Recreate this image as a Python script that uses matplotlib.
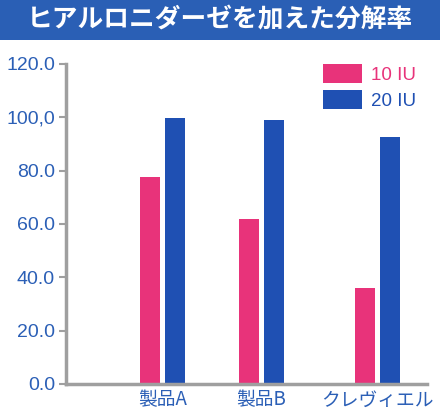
import matplotlib
matplotlib.use("Agg")
import matplotlib.pyplot as plt
from matplotlib.patches import Patch, Rectangle

plt.rcParams['font.family'] = ['Liberation Sans', 'Noto Sans CJK JP', 'DejaVu Sans']

# data
categories = ["製品A", "製品B", "クレヴィエル"]
series_names = ["10 IU", "20 IU"]
vals_10 = [77.7, 62.0, 36.1]
vals_20 = [99.8, 99.1, 92.8]
ytick_vals = [0, 20, 40, 60, 80, 100, 120]
ytick_labels = ["0.0", "20.0", "40.0", "60.0", "80.0", "100,0", "120.0"]
title = "ヒアルロニダーゼを加えた分解率"

pink = "#e8337a"
blue = "#1f50b3"
label_blue = "#2b5fb6"
grey = "#9f9f9f"

xpos = [0, 1, 2.17]
w = 0.202
off = 0.126

fig = plt.figure(figsize=(4.4, 4.2), dpi=100)

# title banner
fig.patches.append(Rectangle((0, 1 - 40 / 420), 1, 40 / 420, transform=fig.transFigure,
                             facecolor="#2a5fb5", edgecolor="none", zorder=0))
fig.text(0.5, 1 - 20 / 420, title, color="white", fontsize=18.5, fontweight="bold",
         ha="center", va="center", family=["Noto Sans CJK JP", "DejaVu Sans"])

ax = fig.add_axes([66 / 440, 1 - 384 / 420, (427 - 66) / 440, (384 - 64) / 420])
ax.bar([x - off for x in xpos], vals_10, width=w, color=pink, zorder=2)
ax.bar([x + off for x in xpos], vals_20, width=w, color=blue, zorder=2)

ax.set_xlim(-0.975, 2.672)
ax.set_ylim(0, 120)
ax.set_yticks(ytick_vals)
ax.set_yticklabels(ytick_labels, color=label_blue, fontsize=14)
ax.set_xticks(xpos)
ax.set_xticklabels(categories, color=label_blue, fontsize=13.5,
                   family=["Noto Sans CJK JP", "DejaVu Sans"])
ax.tick_params(axis="x", length=0, pad=4)
ax.tick_params(axis="y", length=5, width=1.5, color=grey, pad=3)

for s in ["top", "right"]:
    ax.spines[s].set_visible(False)
for s in ["left", "bottom"]:
    ax.spines[s].set_color(grey)
    ax.spines[s].set_linewidth(2.5)

handles = [Patch(facecolor=pink, edgecolor="none"), Patch(facecolor=blue, edgecolor="none")]
leg = ax.legend(handles, series_names, loc="upper left",
                bbox_to_anchor=(323 / 440, 1 - 64 / 420), bbox_transform=fig.transFigure,
                frameon=False, fontsize=13.5, handlelength=2.1, handleheight=1.15,
                handletextpad=0.45, labelspacing=0.35, borderpad=0, borderaxespad=0)
for t, c in zip(leg.get_texts(), [pink, blue]):
    t.set_color(c)

fig.savefig("out.png", dpi=100, facecolor="white")
